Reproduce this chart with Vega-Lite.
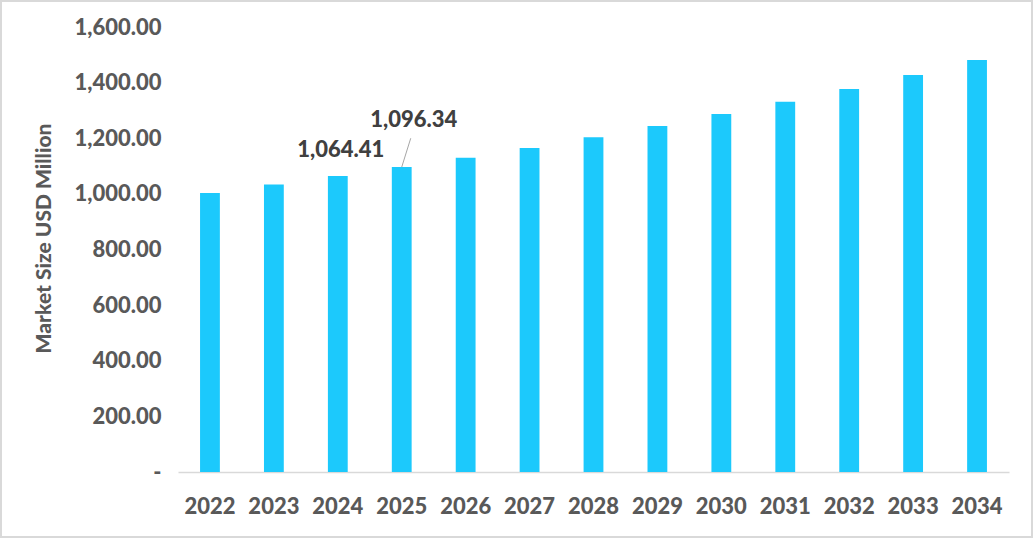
{
  "$schema": "https://vega.github.io/schema/vega-lite/v6.json",
  "description": "Market size in USD million, 2022 to 2034",
  "autosize": "none",
  "padding": {"left": 1, "top": 1, "right": 2, "bottom": 2},
  "width": 1031,
  "height": 536,
  "data": {
    "values": [
      {"year": "2022", "value": 1003.3},
      {"year": "2023", "value": 1033.4},
      {"year": "2024", "value": 1064.41},
      {"year": "2025", "value": 1096.34},
      {"year": "2026", "value": 1129.5},
      {"year": "2027", "value": 1165},
      {"year": "2028", "value": 1204},
      {"year": "2029", "value": 1244},
      {"year": "2030", "value": 1287},
      {"year": "2031", "value": 1331},
      {"year": "2032", "value": 1377},
      {"year": "2033", "value": 1427},
      {"year": "2034", "value": 1481}
    ]
  },
  "encoding": {
    "x": {
      "field": "year",
      "type": "ordinal",
      "scale": {"range": [177, 1008], "paddingInner": 0.69, "paddingOuter": 0.345},
      "axis": {
        "title": null,
        "orient": "bottom",
        "offset": -65,
        "labelAngle": 0,
        "ticks": false,
        "domainColor": "#d9d9d9",
        "domainWidth": 1.5,
        "labelBaseline": "alphabetic",
        "labelPadding": 41,
        "labelFont": "Lato",
        "labelFontWeight": 900,
        "labelFontSize": 22,
        "labelColor": "#595959"
      }
    },
    "y": {
      "field": "value",
      "type": "quantitative",
      "scale": {"domain": [0, 1600], "range": [471, 26], "nice": false},
      "axis": {
        "title": "Market Size USD Million",
        "offset": -177,
        "values": [0, 200, 400, 600, 800, 1000, 1200, 1400, 1600],
        "labelExpr": "datum.value == 0 ? '-' : format(datum.value, ',.2f')",
        "domain": false,
        "ticks": false,
        "grid": false,
        "labelPadding": 17,
        "labelFont": "Lato",
        "labelFontWeight": 900,
        "labelFontSize": 22,
        "labelColor": "#595959",
        "titleFont": "Lato",
        "titleFontWeight": 900,
        "titleFontSize": 21,
        "titleColor": "#595959",
        "titleBaseline": "middle",
        "titleX": -134,
        "titleY": 237
      }
    }
  },
  "layer": [
    {
      "mark": {"type": "bar", "color": "#1cc9fc"}
    },
    {
      "transform": [{"filter": "datum.year == '2024'"}],
      "mark": {
        "type": "text",
        "dx": 3,
        "dy": -26,
        "baseline": "middle",
        "font": "Lato",
        "fontWeight": 900,
        "fontSize": 22,
        "color": "#404040"
      },
      "encoding": {"text": {"field": "value", "format": ",.2f"}}
    },
    {
      "transform": [{"filter": "datum.year == '2025'"}],
      "mark": {
        "type": "text",
        "dx": 12,
        "dy": -47,
        "baseline": "middle",
        "font": "Lato",
        "fontWeight": 900,
        "fontSize": 22,
        "color": "#404040"
      },
      "encoding": {"text": {"field": "value", "format": ",.2f"}}
    },
    {
      "transform": [{"filter": "datum.year == '2025'"}],
      "mark": {"type": "rule", "color": "#a6a6a6", "strokeWidth": 1, "x2Offset": 9},
      "encoding": {
        "x": {"field": "year", "type": "ordinal", "bandPosition": 0.5},
        "x2": {"field": "year", "bandPosition": 0.5},
        "y2": {"datum": 1200}
      }
    }
  ],
  "config": {
    "view": {"stroke": "#d9d9d9", "strokeWidth": 2},
    "background": "white"
  }
}
